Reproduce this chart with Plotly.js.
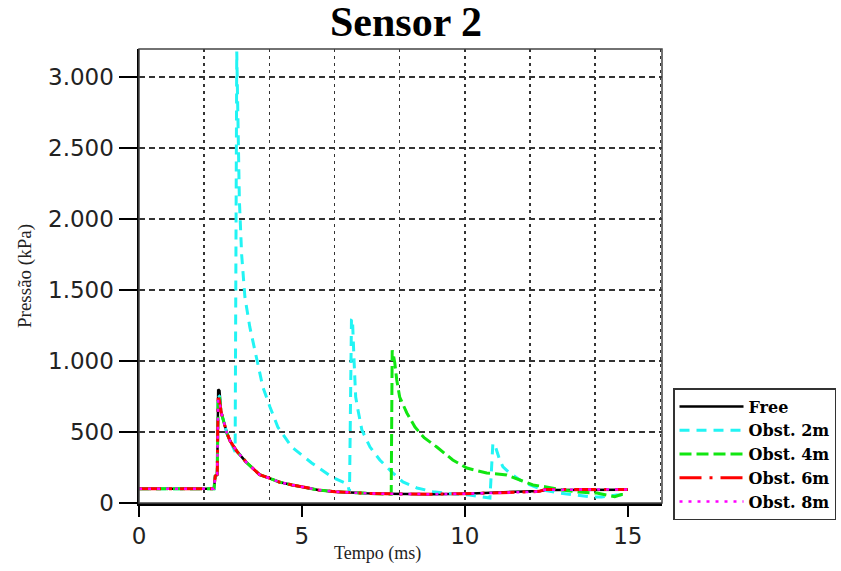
<!DOCTYPE html>
<html>
<head>
<meta charset="utf-8">
<script src="https://cdn.plot.ly/plotly-3.0.1.min.js"></script>
<style>html,body{margin:0;padding:0;background:#fff;}#chart{width:841px;height:571px;}</style>
</head>
<body>
<div id="chart"></div>
<script>
// Time (ms) and pressure (kPa)
const tFree = [0, 2.30, 2.34, 2.40, 2.43, 2.47, 2.52, 2.60, 2.70, 2.80, 3.00, 3.30, 3.70, 4.00, 4.30, 4.70, 5.00, 5.50, 6.00, 6.50, 7.00, 7.50, 8.00, 9.00, 10.00, 11.00, 11.50, 12.00, 12.30, 12.50, 13.00, 14.00, 15.00];
const pFree = [100, 100, 190, 200, 800, 790, 640, 570, 490, 435, 365, 285, 200, 175, 148, 127, 113, 92, 80, 72, 68, 65, 63, 62, 66, 72, 77, 80, 85, 92, 92, 92, 93];

const t2m = [0, 2.30, 2.34, 2.40, 2.43, 2.47, 2.52, 2.60, 2.70, 2.80, 2.90, 2.95, 3.00, 3.05, 3.08, 3.15, 3.25, 3.40, 3.62, 3.80, 4.02, 4.26, 4.69, 5.30, 5.92, 6.32, 6.42, 6.46, 6.52, 6.55, 6.60, 6.65, 6.72, 6.84, 7.09, 7.39, 7.76, 8.10, 8.53, 9.02, 9.50, 10.15, 10.55, 10.77, 10.86, 10.92, 11.07, 11.17, 11.38, 11.69, 12.00, 12.40, 12.90, 13.40, 13.90, 14.20, 14.66, 15.00];
const p2m = [100, 100, 190, 200, 760, 750, 640, 570, 490, 435, 390, 360, 3180, 2600, 2134, 1750, 1450, 1240, 1007, 817, 676, 535, 394, 282, 183, 141, 120, 70, 1290, 1300, 1000, 746, 655, 514, 394, 303, 218, 148, 106, 80, 68, 56, 42, 35, 420, 410, 303, 254, 211, 162, 127, 92, 70, 56, 42, 42, 56, 56];

const t4m = [0, 2.30, 2.34, 2.40, 2.43, 2.47, 2.52, 2.60, 2.70, 2.80, 3.00, 3.30, 3.70, 4.00, 4.30, 4.70, 5.00, 5.50, 6.00, 6.50, 7.00, 7.50, 7.74, 7.77, 7.80, 7.85, 7.91, 8.00, 8.22, 8.47, 8.75, 9.14, 9.45, 9.63, 10.06, 10.40, 10.67, 11.00, 11.29, 11.69, 12.09, 12.50, 13.00, 13.50, 14.05, 14.35, 14.60, 14.80, 15.00];
const p4m = [100, 100, 190, 200, 750, 740, 640, 570, 490, 435, 365, 285, 200, 175, 148, 127, 113, 92, 80, 72, 68, 64, 62, 1075, 1050, 986, 866, 746, 634, 535, 460, 394, 340, 303, 246, 225, 211, 205, 197, 162, 127, 113, 92, 77, 70, 56, 45, 60, 60];

const t6m = [0, 2.30, 2.34, 2.40, 2.43, 2.47, 2.52, 2.60, 2.70, 2.80, 3.00, 3.30, 3.70, 4.00, 4.30, 4.70, 5.00, 5.50, 6.00, 6.50, 7.00, 7.50, 8.00, 9.00, 10.00, 11.00, 11.50, 12.00, 12.30, 12.45, 13.00, 14.00, 15.00];
const p6m = [100, 100, 190, 200, 740, 720, 640, 570, 490, 435, 365, 285, 200, 175, 148, 127, 113, 92, 80, 72, 68, 65, 63, 62, 66, 70, 74, 78, 82, 95, 95, 94, 95];

const t8m = [0, 2.30, 2.34, 2.40, 2.43, 2.47, 2.52, 2.60, 2.70, 2.80, 3.00, 3.30, 3.70, 4.00, 4.30, 4.70, 5.00, 5.50, 6.00, 6.50, 7.00, 7.50, 8.00, 9.00, 10.00, 11.00, 11.50, 12.00, 12.30, 12.45, 13.00, 14.00, 15.00];
const p8m = [100, 100, 190, 200, 730, 710, 640, 570, 490, 435, 365, 285, 200, 175, 148, 127, 113, 92, 80, 72, 68, 65, 63, 62, 66, 70, 74, 78, 82, 93, 94, 94, 95];

const seriesNames = ['Free', 'Obst. 2m', 'Obst. 4m', 'Obst. 6m', 'Obst. 8m'];
const xTicks = [0, 5, 10, 15];
const yTicks = [0, 500, 1000, 1500, 2000, 2500, 3000];

const tickFont = {family: 'DejaVu Sans, Arial, sans-serif', size: 23, color: '#222'};
const serif = 'Liberation Serif, Times New Roman, serif';

const traces = [
  {x: tFree, y: pFree, name: seriesNames[0], mode: 'lines', line: {color: '#000000', width: 2.5}},
  {x: t2m, y: p2m, name: seriesNames[1], mode: 'lines', line: {color: '#22F4F4', width: 3, dash: '10px,7px'}},
  {x: t4m, y: p4m, name: seriesNames[2], mode: 'lines', line: {color: '#11E611', width: 3, dash: '12px,5px'}},
  {x: t6m, y: p6m, name: seriesNames[3], mode: 'lines', line: {color: '#FF0000', width: 3, dash: '22px,8px,3px,8px'}},
  {x: t8m, y: p8m, name: seriesNames[4], mode: 'lines', line: {color: '#FF00FF', width: 2.5, dash: '3px,6px'}},
  {x: [], y: [], xaxis: 'x2', yaxis: 'y', showlegend: false, hoverinfo: 'skip', mode: 'lines'}
];

const layout = {
  width: 841, height: 571,
  paper_bgcolor: '#ffffff', plot_bgcolor: '#ffffff',
  separators: ',.',
  margin: {l: 139, r: 179, t: 49, b: 68, pad: 0, autoexpand: false},
  title: {text: '<b>Sensor 2</b>', font: {family: serif, size: 42, color: '#000'},
          x: (406 - 139) / 523, xref: 'paper', xanchor: 'center', y: 1 - 21 / 571, yref: 'container', yanchor: 'middle'},
  xaxis: {range: [0, 16.05], tick0: 0, dtick: 2, showgrid: true, gridcolor: '#333', griddash: '3px,4px', gridwidth: 1.5,
          showticklabels: false, ticks: '', showline: false, zeroline: false},
  xaxis2: {overlaying: 'x', anchor: 'y', side: 'bottom', range: [0, 16.05], tickmode: 'array', tickvals: xTicks,
           ticks: 'outside', ticklen: 11, tickwidth: 2.5, tickcolor: '#000', showline: true, linecolor: '#000', linewidth: 2.5,
           showgrid: false, zeroline: false, tickfont: tickFont},
  yaxis: {range: [0, 3197], tickmode: 'array', tickvals: yTicks, separatethousands: true,
          showgrid: true, gridcolor: '#333', griddash: '6px,4px', gridwidth: 1.5,
          ticks: 'outside', ticklen: 18, tickwidth: 2.5, tickcolor: '#000', showline: true, linecolor: '#000', linewidth: 2.5, zeroline: false,
          tickfont: tickFont,
          title: {text: 'Pressão (kPa)', standoff: 12, font: {family: serif, size: 19, color: '#222'}}},
  shapes: [{type: 'rect', xref: 'paper', yref: 'paper', x0: 0, x1: 1, y0: 0, y1: 1, line: {color: '#444', width: 1.5}, layer: 'above'}],
  annotations: [{text: 'Tempo (ms)', xref: 'paper', yref: 'paper', x: (377 - 139) / 523, y: -(553 - 503) / 454, xanchor: 'center', yanchor: 'middle',
                 showarrow: false, font: {family: serif, size: 18, color: '#222'}}],
  legend: {x: 673 / 841, y: 1 - 388 / 571, xref: 'container', yref: 'container', xanchor: 'left', yanchor: 'top',
           bgcolor: '#fff', bordercolor: '#333', borderwidth: 1.5,
           font: {family: 'DejaVu Serif, serif', size: 16, color: '#000', weight: 'bold'},
           itemwidth: 64, tracegroupgap: 0},
  showlegend: true
};

Plotly.newPlot('chart', traces, layout, {displayModeBar: false, staticPlot: true});
</script>
</body>
</html>
